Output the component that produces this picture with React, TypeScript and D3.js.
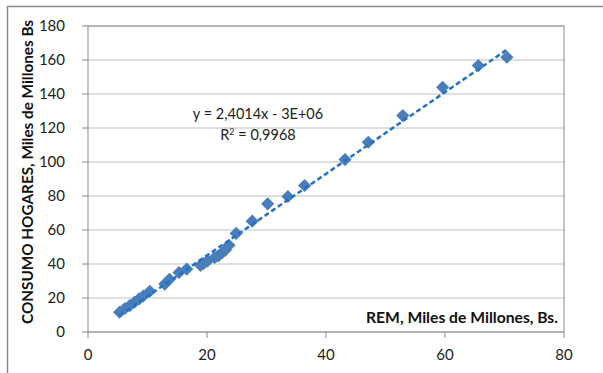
import React from "react";
import * as d3 from "d3";

const rem = [5.3, 6.2, 7.0, 7.8, 8.6, 9.3, 10.4, 12.9, 13.7, 15.3, 16.6, 18.9, 19.4, 20.1, 21.3, 21.9, 22.5, 23.1, 23.7, 24.9, 27.6, 30.2, 33.6, 36.4, 43.2, 47.1, 52.9, 59.6, 65.6, 70.4];
const consumo = [11.6, 13.8, 15.5, 17.5, 19.5, 21.2, 24.0, 28.2, 31.0, 35.0, 37.0, 39.2, 40.2, 41.8, 43.8, 44.8, 46.5, 48.2, 51.0, 58.0, 65.2, 75.4, 79.7, 86.2, 101.4, 111.6, 127.3, 143.9, 156.7, 161.6];
const xTicks = [0, 20, 40, 60, 80];
const yTicks = [0, 20, 40, 60, 80, 100, 120, 140, 160, 180];
const slope = 2.4014;
const intercept = -3;
const eqLabel = "y = 2,4014x - 3E+06";
const r2Value = "0,9968";
const xTitle = "REM, Miles de Millones, Bs.";
const yTitle = "CONSUMO HOGARES, Miles de Millones Bs";

const W = 603, H = 373;
const left = 88, right = 564, top = 26, bottom = 332;
const font = "Lato, 'Open Sans', sans-serif";

export default function App() {
  const x = d3.scaleLinear().domain([0, 80]).range([left, right]);
  const y = d3.scaleLinear().domain([0, 180]).range([bottom, top]);
  const xMin = d3.min(rem) as number;
  const xMax = d3.max(rem) as number;
  const trend = d3.line<number>().x((v) => x(v)).y((v) => y(slope * v + intercept))([xMin, xMax]) as string;
  const diamond = d3.symbol().type(d3.symbolDiamond2).size(110)() as string;

  return (
    <svg width={W} height={H} style={{ position: "fixed", left: 0, top: 0, background: "#fff" }} fontFamily={font}>
      <rect x={0} y={0} width={W} height={H} fill="#fff" />
      <rect x={7.5} y={6.5} width={W + 20} height={H + 20} fill="none" stroke="#8a8a8a" strokeWidth={1.5} />
      {yTicks.map((t) => (
        <line key={"g" + t} x1={left} x2={right} y1={y(t)} y2={y(t)} stroke="#bfbfbf" strokeWidth={1} />
      ))}
      <rect x={left} y={top} width={right - left} height={bottom - top} fill="none" stroke="#8a8a8a" strokeWidth={1} />
      {yTicks.map((t) => (
        <g key={"yt" + t}>
          <line x1={left - 6} x2={left} y1={y(t)} y2={y(t)} stroke="#8a8a8a" />
          <text x={65} y={y(t)} dy="0.35em" textAnchor="end" fontSize={15} fill="#222">{t}</text>
        </g>
      ))}
      {xTicks.map((t) => (
        <g key={"xt" + t}>
          <line x1={x(t)} x2={x(t)} y1={bottom} y2={bottom + 6} stroke="#8a8a8a" />
          <text x={x(t)} y={355} dy="0.35em" textAnchor="middle" fontSize={15} fill="#222">{t}</text>
        </g>
      ))}
      {rem.map((v, i) => (
        <path key={"p" + i} d={diamond} transform={`translate(${x(v)},${y(consumo[i])})`} fill="#4a7ebb" />
      ))}
      <path d={trend} fill="none" stroke="#1f72c8" strokeWidth={2.5} strokeDasharray="5,3" />
      <text x={258} y={119} textAnchor="middle" fontSize={14.5} fill="#222">{eqLabel}</text>
      <text x={258} y={140} textAnchor="middle" fontSize={14.5} fill="#222">
        R<tspan dy={-5} fontSize={9}>2</tspan><tspan dy={5}>{" = " + r2Value}</tspan>
      </text>
      <text x={558} y={323} textAnchor="end" fontSize={14.5} fontWeight="bold" fill="#111" textLength={192} lengthAdjust="spacingAndGlyphs">{xTitle}</text>
      <text transform="translate(33,172) rotate(-90)" textAnchor="middle" fontSize={14.5} fontWeight="bold" fill="#111" textLength={304} lengthAdjust="spacingAndGlyphs">{yTitle}</text>
    </svg>
  );
}
